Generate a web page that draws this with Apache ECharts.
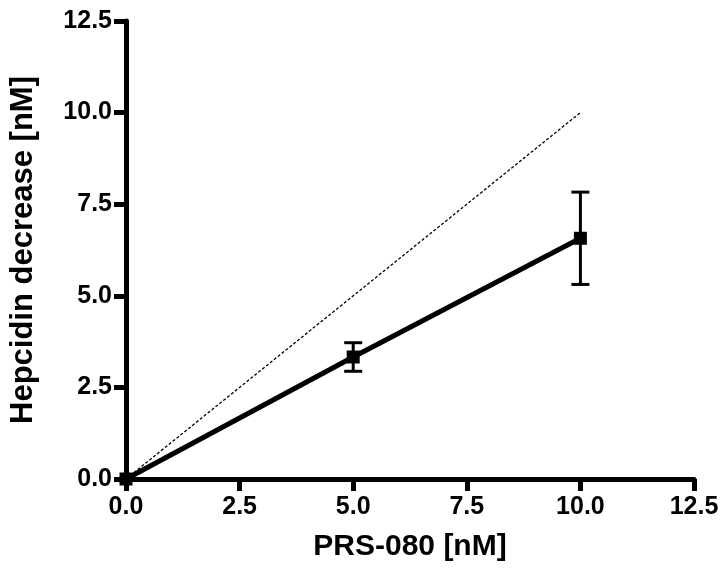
<!DOCTYPE html>
<html><head><meta charset="utf-8">
<script src="https://cdn.jsdelivr.net/npm/echarts@6/dist/echarts.min.js"></script>
<style>html,body{margin:0;padding:0;background:#fff}#c{width:726px;height:577px}</style>
</head><body><div id="c"></div>
<script>
var xValues = [0, 5, 10];
var yMeans = [0, 3.33, 6.57];
var yErrors = [0, 0.39, 1.26];
var identityLine = [[0, 0], [10, 10]];
var tickLabels = ['0.0', '2.5', '5.0', '7.5', '10.0', '12.5'];

var chart = echarts.init(document.getElementById('c'));
var font = 'Liberation Sans, Arial, sans-serif';
var meanData = xValues.map(function (x, i) { return [x, yMeans[i]]; });
var errData = xValues.map(function (x, i) { return [x, yMeans[i] - yErrors[i], yMeans[i] + yErrors[i]]; });

function fmt(v) { return tickLabels[Math.round(v / 2.5)] || v.toFixed(1); }

var axisCommon = {
  min: 0, max: 12.5, interval: 2.5,
  axisLine: { show: true, lineStyle: { color: '#000', width: 5, cap: 'round' } },
  axisTick: { show: true, length: 12, lineStyle: { color: '#000', width: 5 } },
  splitLine: { show: false },
  axisLabel: { color: '#000', fontFamily: font, fontWeight: 'bold', fontSize: 25, formatter: fmt },
  nameTextStyle: { color: '#000', fontFamily: font, fontWeight: 'bold', fontSize: 30 }
};

chart.setOption({
  animation: false,
  grid: { left: 122, right: 32, top: 21, bottom: 98 },
  xAxis: Object.assign({}, axisCommon, {
    type: 'value', name: 'PRS-080 [nM]', nameLocation: 'middle', nameGap: 53,
    axisLabel: Object.assign({}, axisCommon.axisLabel, { margin: 16 })
  }),
  yAxis: Object.assign({}, axisCommon, {
    type: 'value', name: 'Hepcidin decrease [nM]', nameLocation: 'middle', nameGap: 87,
    nameTextStyle: Object.assign({}, axisCommon.nameTextStyle, { fontSize: 31 }),
    axisLabel: Object.assign({}, axisCommon.axisLabel, { margin: 14 })
  }),
  series: [
    {
      type: 'line', data: identityLine, symbol: 'none',
      lineStyle: { color: '#000', width: 1.3, type: [3, 2] }, z: 2
    },
    {
      type: 'line', data: meanData, symbol: 'rect', symbolSize: 13,
      itemStyle: { color: '#000' },
      lineStyle: { color: '#000', width: 5 }, z: 3
    },
    {
      type: 'custom', data: errData, z: 4,
      renderItem: function (params, api) {
        var x = api.value(0);
        var lo = api.coord([x, api.value(1)]);
        var hi = api.coord([x, api.value(2)]);
        var hw = 9;
        if (Math.abs(lo[1] - hi[1]) < 1) return null;
        var st = { stroke: '#000', lineWidth: 3 };
        return {
          type: 'group', children: [
            { type: 'line', shape: { x1: lo[0], y1: lo[1], x2: hi[0], y2: hi[1] }, style: st },
            { type: 'line', shape: { x1: lo[0] - hw, y1: lo[1], x2: lo[0] + hw, y2: lo[1] }, style: st },
            { type: 'line', shape: { x1: hi[0] - hw, y1: hi[1], x2: hi[0] + hw, y2: hi[1] }, style: st }
          ]
        };
      }
    }
  ]
});
</script></body></html>
